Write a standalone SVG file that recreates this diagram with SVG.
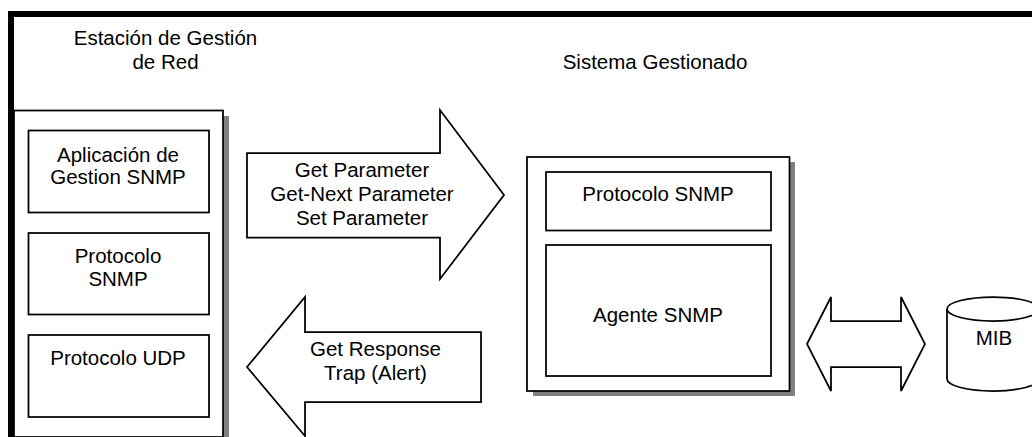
<svg xmlns="http://www.w3.org/2000/svg" width="1032" height="437" viewBox="0 0 1032 437">
<style>
text{font-family:"Liberation Sans",Arial,sans-serif;font-size:20.500px;fill:#000;text-anchor:middle}
.b{fill:#fff;stroke:#000;stroke-width:1.750}
.s{fill:#808080}
</style>
<rect width="1032" height="437" fill="#fff"/>
<g id="frame"><path d="M11 437V14H1032" fill="none" stroke="#000" stroke-width="6"/></g>
<g id="title-left"><text x="165.500" y="45">Estación de Gestión</text><text x="165.500" y="69">de Red</text></g>
<g id="title-right"><text x="655" y="69">Sistema Gestionado</text></g>
<g id="station">
<rect class="s" x="20" y="116" width="209" height="321"/>
<rect class="b" x="14" y="110.500" width="209" height="326.500"/>
</g>
<g id="app"><rect class="b" x="28.500" y="130.500" width="180.500" height="82"/><text x="118" y="161.500">Aplicación de</text><text x="118" y="184">Gestion SNMP</text></g>
<g id="proto-snmp"><rect class="b" x="28.500" y="233" width="180.500" height="81.500"/><text x="118" y="263">Protocolo</text><text x="118" y="286">SNMP</text></g>
<g id="proto-udp"><rect class="b" x="28.500" y="335" width="180.500" height="82"/><text x="118" y="365">Protocolo UDP</text></g>
<g id="system">
<rect class="s" x="533" y="162" width="262" height="234"/>
<rect class="b" x="527" y="157" width="262.500" height="234"/>
</g>
<g id="sys-proto"><rect class="b" x="546" y="172" width="225" height="58.500"/><text x="658" y="201">Protocolo SNMP</text></g>
<g id="sys-agent"><rect class="b" x="546" y="245" width="225" height="131"/><text x="658" y="322">Agente SNMP</text></g>
<g id="mib"><path class="b" d="M947 309A46 12 0 0 1 1039 309V379A46 12 0 0 1 947 379Z"/><path class="b" fill="none" d="M947 309A46 12 0 0 0 1039 309"/><text x="994" y="345">MIB</text></g>
<g id="connectors">
<g id="arrow-request"><path class="b" d="M247 153H440V110L504 195L440 279V237.500H247Z"/><text x="362" y="177">Get Parameter</text><text x="362" y="201">Get-Next Parameter</text><text x="362" y="225">Set Parameter</text></g>
<g id="arrow-response"><path class="b" d="M247 367L305 297V332H481V402H305V436Z"/><text x="375.500" y="356">Get Response</text><text x="375.500" y="380">Trap (Alert)</text></g>
<path id="arrow-mib" class="b" d="M807 344L831 297V321H901V297L925 344L901 391V367H831V391Z"/>
</g>
</svg>
